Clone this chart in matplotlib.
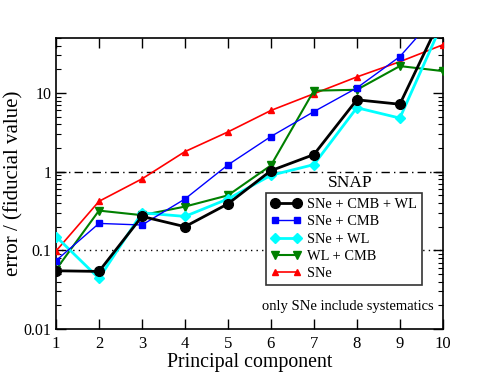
import matplotlib
matplotlib.use("Agg")
import matplotlib.pyplot as plt
from matplotlib.ticker import LogLocator, NullFormatter

plt.rcParams['font.family'] = ['Liberation Serif', 'DejaVu Serif']
plt.rcParams['mathtext.fontset'] = 'stix'

pc = [1, 2, 3, 4, 5, 6, 7, 8, 9, 10]
sne_cmb_wl = [0.055, 0.054, 0.27, 0.20, 0.39, 1.03, 1.65, 8.2, 7.2, 100]
sne_cmb = [0.074, 0.22, 0.21, 0.45, 1.22, 2.8, 5.8, 11.6, 29, 120]
sne_wl = [0.15, 0.044, 0.30, 0.27, 0.45, 0.90, 1.23, 6.5, 4.8, 80]
wl_cmb = [0.057, 0.32, 0.28, 0.36, 0.50, 1.2, 10.7, 11.0, 22, 19]
sne = [0.098, 0.42, 0.81, 1.8, 3.2, 6.0, 9.8, 16, 25, 41]

fig = plt.figure(figsize=(4.85, 3.88), dpi=100)
ax = fig.add_axes([0.1155, 0.152, 0.7975, 0.75])

ax.axhline(1.0, color='black', lw=1, ls=(0, (6, 3, 1, 3)), zorder=1)
ax.axhline(0.1, color='black', lw=1, ls=(0, (1, 3)), zorder=1)

ax.plot(pc, sne, color='red', lw=1.2, marker='^', ms=5, label='SNe', zorder=3)
ax.plot(pc, wl_cmb, color='green', lw=1.5, marker='v', ms=6, label='WL + CMB', zorder=4)
ax.plot(pc, sne_wl, color='cyan', lw=2, marker='D', ms=5, label='SNe + WL', zorder=5)
ax.plot(pc, sne_cmb, color='blue', lw=1, marker='s', ms=4.5, label='SNe + CMB', zorder=6)
ax.plot(pc, sne_cmb_wl, color='black', lw=2, marker='o', ms=7, label='SNe + CMB + WL', zorder=7)

ax.set_yscale('log')
ax.set_xlim(1, 10)
ax.set_ylim(0.01, 50)
ax.set_xticks(pc)
ax.set_yticks([0.01, 0.1, 1, 10])
ax.set_yticklabels(['0.01', '0.1', '1', '10'])
ax.yaxis.set_minor_locator(LogLocator(base=10, subs=range(2, 10), numticks=20))
ax.yaxis.set_minor_formatter(NullFormatter())
ax.tick_params(which='both', direction='in', top=True, right=True, labelsize=12)
ax.tick_params(axis='y', labelsize=11.5)
ax.tick_params(which='major', length=7, width=1)
ax.tick_params(which='minor', length=3.5, width=0.8)
ax.tick_params(axis='x', pad=5)
for s in ax.spines.values():
    s.set_linewidth(1.2)

ax.set_xlabel('Principal component', fontsize=14.3, labelpad=1)
ax.set_ylabel('error / (fiducial value)', fontsize=15)
ax.yaxis.set_label_coords(-0.083, 0.5)

handles, labels = ax.get_legend_handles_labels()
order = [4, 3, 2, 1, 0]
leg = ax.legend([handles[i] for i in order], [labels[i] for i in order],
                loc='upper left', bbox_to_anchor=(0.543, 0.467), fontsize=10.4,
                frameon=True, fancybox=False, edgecolor='#333333', framealpha=1,
                numpoints=2, handlelength=2.1, borderpad=0.35, labelspacing=0.28,
                handletextpad=0.4, borderaxespad=0)
leg.get_frame().set_linewidth(1.2)
leg.set_zorder(10)

ax.text(0.76, 0.502, 'SNAP', transform=ax.transAxes, fontsize=12.5, ha='center', va='center', zorder=11)
ax.text(0.977, 0.076, 'only SNe include systematics', transform=ax.transAxes, fontsize=10.5,
        ha='right', va='center', zorder=11)

fig.savefig('out.png', dpi=100)
